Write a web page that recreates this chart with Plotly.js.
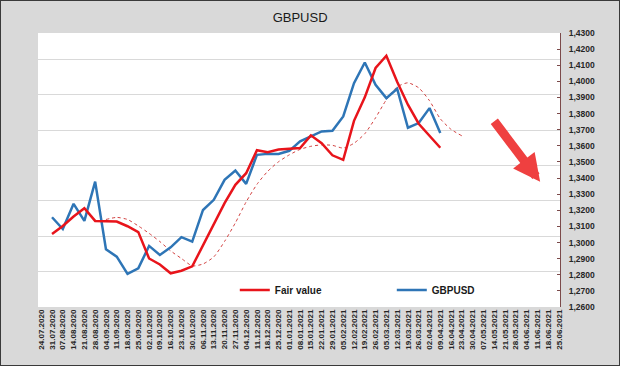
<!DOCTYPE html>
<html>
<head>
<meta charset="utf-8">
<script src="https://cdn.plot.ly/plotly-3.0.1.min.js"></script>
<style>
  html, body { margin: 0; padding: 0; background: #d9d9d9; }
  #wrap { position: relative; width: 620px; height: 366px; }
  #chart { width: 620px; height: 366px; }
  #frame { position: absolute; left: 0; top: 0; width: 620px; height: 366px; box-sizing: border-box; border: 1px solid #3a3a3a; pointer-events: none; }
</style>
</head>
<body>
<div id="wrap"><div id="chart"></div><div id="frame"></div></div>
<script>
// Weekly category labels
const weeks = [
  "24.07.2020","31.07.2020","07.08.2020","14.08.2020","21.08.2020","28.08.2020",
  "04.09.2020","11.09.2020","18.09.2020","25.09.2020","02.10.2020","09.10.2020",
  "16.10.2020","23.10.2020","30.10.2020","06.11.2020","13.11.2020","20.11.2020",
  "27.11.2020","04.12.2020","11.12.2020","18.12.2020","25.12.2020","01.01.2021",
  "08.01.2021","15.01.2021","22.01.2021","29.01.2021","05.02.2021","12.02.2021",
  "19.02.2021","26.02.2021","05.03.2021","12.03.2021","19.03.2021","26.03.2021",
  "02.04.2021","09.04.2021","16.04.2021","23.04.2021","30.04.2021","07.05.2021",
  "14.05.2021","21.05.2021","28.05.2021","04.06.2021","11.06.2021","18.06.2021",
  "25.06.2021"
];

// Fair value (31.07.2020 .. 09.04.2021)
const fairValueStart = "31.07.2020";
const fairValue = [
  1.3053,1.3103,1.3161,1.3213,1.3134,1.3130,1.3130,1.3101,1.3065,1.2901,
  1.2864,1.2809,1.2825,1.2852,1.2985,1.3120,1.3244,1.3358,1.3430,1.3573,
  1.3561,1.3577,1.3581,1.3586,1.3665,1.3616,1.3541,1.3513,1.3755,1.3901,
  1.4083,1.4159,1.3998,1.3855,1.3737,1.3662,1.3588
];

// GBPUSD (31.07.2020 .. 09.04.2021)
const gbpusdStart = "31.07.2020";
const gbpusd = [
  1.3157,1.3084,1.3240,1.3134,1.3378,1.2958,1.2912,1.2805,1.2840,1.2979,
  1.2923,1.2970,1.3033,1.3006,1.3202,1.3265,1.3389,1.3447,1.3364,1.3544,
  1.3550,1.3550,1.3569,1.3628,1.3658,1.3689,1.3693,1.3782,1.3989,1.4117,
  1.3979,1.3896,1.3954,1.3712,1.3741,1.3834,1.3679
];

// Fair value trend (dotted), 04.09.2020 .. 23.04.2021
const fairTrendStart = "04.09.2020";
const fairTrend = [
  1.3143,1.3156,1.3143,1.3103,1.3057,1.3006,1.2948,1.2901,1.2855,1.2867,
  1.2911,1.3007,1.3122,1.3252,1.3361,1.3442,1.3501,1.3544,1.3578,1.3597,
  1.3606,1.3603,1.3586,1.3616,1.3675,1.3774,1.3886,1.3966,1.3991,1.3960,
  1.3880,1.3768,1.3702,1.3662
];

function xsFrom(start, arr) {
  const i = weeks.indexOf(start);
  return weeks.slice(i, i + arr.length);
}

const fontFam = "'Liberation Sans', Arial, sans-serif";

const traces = [
  { x: weeks, y: weeks.map(() => null), type: 'scatter', mode: 'lines',
    showlegend: false, hoverinfo: 'skip', xaxis: 'x', yaxis: 'y' },
  { x: [], y: [], type: 'scatter', mode: 'lines', showlegend: false,
    hoverinfo: 'skip', xaxis: 'x', yaxis: 'y2' },
  { x: xsFrom(fairTrendStart, fairTrend), y: fairTrend, type: 'scatter', mode: 'lines',
    name: 'trend', showlegend: false, line: { color: '#d2403f', width: 1, dash: 'dot', shape: 'spline', smoothing: 0.6 } },
  { x: xsFrom(gbpusdStart, gbpusd), y: gbpusd, type: 'scatter', mode: 'lines',
    name: 'GBPUSD', line: { color: '#2e75b6', width: 2.5 } },
  { x: xsFrom(fairValueStart, fairValue), y: fairValue, type: 'scatter', mode: 'lines',
    name: 'Fair value', line: { color: '#e8141b', width: 2.5 } }
];

const layout = {
  width: 620, height: 366,
  margin: { l: 38, r: 60, t: 33, b: 59, pad: 0 },
  paper_bgcolor: '#d9d9d9',
  plot_bgcolor: '#ffffff',
  showlegend: true,
  title: { text: 'GBPUSD', x: 0.484, xref: 'container', xanchor: 'center',
           y: 0.953, yref: 'container', yanchor: 'middle',
           font: { family: fontFam, size: 13, color: '#1a1a1a' } },
  xaxis: {
    type: 'category', categoryorder: 'array', categoryarray: weeks,
    range: [-0.3, 48.1], tickmode: 'linear', tick0: 0, dtick: 1,
    tickangle: -90, showgrid: false, zeroline: false, showline: false,
    ticks: '', fixedrange: true,
    tickfont: { family: fontFam, size: 8, color: '#262626', weight: 'bold' }
  },
  yaxis: {
    side: 'right', range: [1.26, 1.43], tickmode: 'linear', tick0: 1.26, dtick: 0.01,
    tickformat: '.4f', showgrid: false, zeroline: false,
    showline: true, linecolor: '#7b4a4a', linewidth: 1,
    ticks: 'inside', ticklen: 3, tickcolor: '#7b4a4a',
    ticklabelstandoff: 6,
    tickfont: { family: fontFam, size: 8.5, color: '#262626', weight: 'bold' }
  },
  yaxis2: {
    overlaying: 'y', side: 'left', range: [0, 7.754], tickmode: 'linear', tick0: 0, dtick: 1,
    showgrid: true, gridcolor: '#d9d9d9', gridwidth: 1, zeroline: false,
    showticklabels: false, ticks: '', showline: false
  },
  separators: ', ',
  legend: {
    orientation: 'h', x: 0.377, xanchor: 'left', y: 0.062, yanchor: 'middle',
    bgcolor: 'rgba(0,0,0,0)', borderwidth: 0, traceorder: 'reversed',
    entrywidth: 112, entrywidthmode: 'pixels',
    font: { family: fontFam, size: 10, color: '#1a1a1a', weight: 'bold' }
  },
  annotations: [{
    xref: 'paper', yref: 'paper', x: 0.962, y: 0.457,
    ax: -47, ay: -62, axref: 'pixel', ayref: 'pixel',
    text: '', showarrow: true, arrowhead: 2, arrowsize: 0.6,
    arrowwidth: 9, arrowcolor: '#ef4040', standoff: 0
  }]
};

Plotly.newPlot('chart', traces, layout, { displayModeBar: false, staticPlot: true });
</script>
</body>
</html>
